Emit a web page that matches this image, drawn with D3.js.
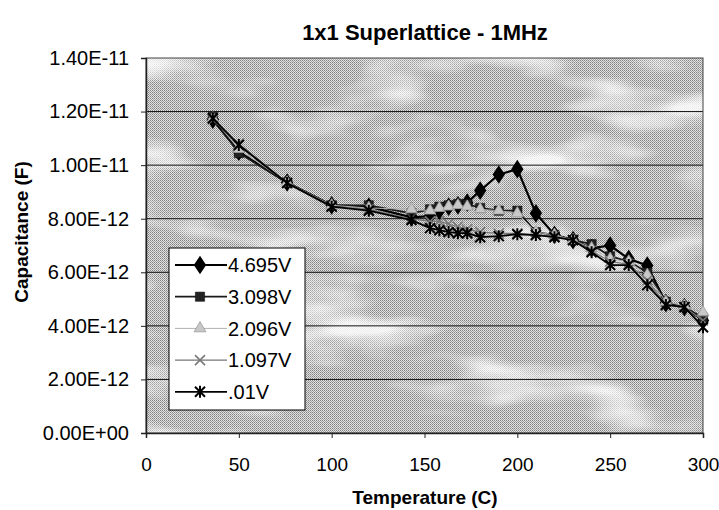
<!DOCTYPE html>
<html lang="en">
<head>
<meta charset="UTF-8">
<title>1x1 Superlattice - 1MHz</title>
<style>
  body { margin: 0; background: #fff; }
  text { font-family: "Liberation Sans", Arial, sans-serif; }
</style>
</head>
<body>
<div id="chart"></div>
<script src="https://d3js.org/d3.v7.min.js"></script>
<script>
// temperature points (C)
const temps = [36, 50, 76, 100, 120, 143, 153, 158, 163, 168, 173, 180, 190, 200, 210, 220, 230, 240, 250, 260, 270, 280, 290, 300];
// capacitance in units of 1e-12 F
const v4695 = [11.7, 10.5, 9.35, 8.5, 8.45, 8.05, 8.1, 8.3, 8.45, 8.5, 8.6, 9.05, 9.65, 9.85, 8.2, 7.4, 7.2, 6.9, 7.0, 6.5, 6.25, 4.85, 4.7, 4.2];
const v3098 = [11.8, 10.45, 9.35, 8.5, 8.5, 8.2, 8.35, 8.45, 8.5, 8.55, 8.55, 8.4, 8.3, 8.3, 7.5, 7.4, 7.2, 7.05, 6.6, 6.4, 6.0, 4.9, 4.7, 4.3];
const v2096 = [11.75, 10.6, 9.35, 8.5, 8.4, 8.35, 8.3, 8.4, 8.45, 8.5, 8.45, 8.35, 8.3, 8.2, 7.5, 7.4, 7.2, 6.9, 6.5, 6.4, 5.9, 4.9, 4.75, 4.5];
const v1097 = [11.7, 10.8, 9.35, 8.45, 8.35, 8.0, 7.9, 7.9, 7.8, 7.7, 7.6, 7.5, 7.45, 7.45, 7.4, 7.35, 7.2, 6.8, 6.4, 6.3, 5.7, 4.8, 4.7, 4.2];
const v001 = [11.75, 10.75, 9.33, 8.45, 8.3, 7.95, 7.65, 7.57, 7.5, 7.46, 7.46, 7.31, 7.35, 7.42, 7.39, 7.31, 7.2, 6.75, 6.27, 6.27, 5.52, 4.78, 4.7, 3.95];
const seriesNames = ["4.695V", "3.098V", "2.096V", "1.097V", ".01V"];
const xTicks = [0, 50, 100, 150, 200, 250, 300];
const yTicks = [0, 2e-12, 4e-12, 6e-12, 8e-12, 1e-11, 1.2e-11, 1.4e-11];

const width = 719, height = 510;
const pLeft = 146, pRight = 703, pTop = 58, pBottom = 433;

const svg = d3.select("#chart").append("svg")
  .attr("width", width).attr("height", height);

const x = d3.scaleLinear().domain([0, 300]).range([pLeft, pRight]);
const y = d3.scaleLinear().domain([0, 1.4e-11]).range([pBottom, pTop]);

// plot background: dithered gray with white cloudy patches
const defs = svg.append("defs");
const pat = defs.append("pattern").attr("id", "dith")
  .attr("width", 2).attr("height", 2).attr("patternUnits", "userSpaceOnUse");
pat.append("rect").attr("width", 2).attr("height", 2).attr("fill", "#e2e2e2");
pat.append("rect").attr("width", 1).attr("height", 1).attr("fill", "#808080");
pat.append("rect").attr("x", 1).attr("y", 1).attr("width", 1).attr("height", 1).attr("fill", "#a0a0a0");

const flt = defs.append("filter").attr("id", "clouds")
  .attr("x", 0).attr("y", 0).attr("width", 1).attr("height", 1);
flt.append("feTurbulence").attr("type", "fractalNoise")
  .attr("baseFrequency", "0.007 0.022").attr("numOctaves", 3).attr("seed", 7);
flt.append("feColorMatrix").attr("type", "matrix")
  .attr("values", "0 0 0 0 1  0 0 0 0 1  0 0 0 0 1  4 0 0 0 -2.0");

svg.append("rect").attr("x", pLeft).attr("y", pTop)
  .attr("width", pRight - pLeft).attr("height", pBottom - pTop)
  .attr("fill", "url(#dith)");
svg.append("rect").attr("x", pLeft).attr("y", pTop)
  .attr("width", pRight - pLeft).attr("height", pBottom - pTop)
  .attr("fill", "#fff").attr("filter", "url(#clouds)").attr("opacity", 0.85);

// gridlines
svg.append("g").selectAll("line")
  .data(yTicks.filter(d => d > 0 && d < 1.4e-11))
  .join("line")
  .attr("x1", pLeft).attr("x2", pRight)
  .attr("y1", d => y(d)).attr("y2", d => y(d))
  .attr("stroke", "#111").attr("stroke-width", 1);

// plot border
svg.append("rect").attr("x", pLeft).attr("y", pTop)
  .attr("width", pRight - pLeft).attr("height", pBottom - pTop)
  .attr("fill", "none").attr("stroke", "#444").attr("stroke-width", 1);

function sciFmt(v) {
  if (v === 0) return "0.00E+00";
  const e = Math.floor(Math.log10(Math.abs(v)) + 1e-9);
  const m = v / Math.pow(10, e);
  const sign = e < 0 ? "-" : "+";
  return m.toFixed(2) + "E" + sign + String(Math.abs(e)).padStart(2, "0");
}

const yAxis = svg.append("g").attr("transform", `translate(${pLeft},0)`)
  .call(d3.axisLeft(y).tickValues(yTicks).tickFormat(sciFmt).tickSize(5).tickPadding(12));
const xAxis = svg.append("g").attr("transform", `translate(0,${pBottom})`)
  .call(d3.axisBottom(x).tickValues(xTicks).tickSize(5).tickPadding(20));
[yAxis, xAxis].forEach(a => {
  a.select(".domain").attr("stroke", "#222").attr("stroke-width", 1.5);
  a.selectAll(".tick line").attr("stroke", "#222");
  a.selectAll("text").attr("fill", "#000")
    .style("font-family", '"Liberation Sans", Arial, sans-serif');
});
yAxis.selectAll("text").style("font-size", "20px");
xAxis.selectAll("text").style("font-size", "19px");

// series
const seriesVals = [v4695, v3098, v2096, v1097, v001];
const styles = [
  { color: "#000", width: 2.2, marker: "diamond", size: 100, fill: "#000", mstroke: "#000" },
  { color: "#1a1a1a", width: 1.8, marker: "square", size: 85, fill: "#222", mstroke: "#000" },
  { color: "#b0b0b0", width: 1, marker: "triangle", size: 60, fill: "#c8c8c8", mstroke: "#9a9a9a" },
  { color: "#777", width: 1.2, marker: "x", size: 10, fill: "none", mstroke: "#777" },
  { color: "#000", width: 1.8, marker: "star", size: 10, fill: "none", mstroke: "#000" }
];

const series = seriesNames.map((name, i) => ({
  name, style: styles[i],
  points: temps.map((t, j) => ({ t, c: seriesVals[i][j] * 1e-12 }))
}));

const line = d3.line().x(d => x(d.t)).y(d => y(d.c));

function drawMarker(g, st, cx, cy) {
  if (st.marker === "diamond") {
    g.append("path").attr("d", d3.symbol(d3.symbolDiamond, st.size)())
      .attr("transform", `translate(${cx},${cy}) scale(1.15,1)`).attr("fill", st.fill);
  } else if (st.marker === "square") {
    g.append("path").attr("d", d3.symbol(d3.symbolSquare, st.size)())
      .attr("transform", `translate(${cx},${cy})`).attr("fill", st.fill)
      .attr("stroke", st.mstroke).attr("stroke-width", 0.5);
  } else if (st.marker === "triangle") {
    g.append("path").attr("d", d3.symbol(d3.symbolTriangle, st.size)())
      .attr("transform", `translate(${cx},${cy})`).attr("fill", st.fill)
      .attr("stroke", st.mstroke).attr("stroke-width", 0.8);
  } else if (st.marker === "x") {
    const s = st.size / 2;
    g.append("path").attr("d", `M${cx - s},${cy - s}L${cx + s},${cy + s}M${cx - s},${cy + s}L${cx + s},${cy - s}`)
      .attr("stroke", st.mstroke).attr("stroke-width", 1.5);
  } else if (st.marker === "star") {
    const s = st.size / 2;
    g.append("path").attr("d",
      `M${cx - s},${cy - s}L${cx + s},${cy + s}M${cx - s},${cy + s}L${cx + s},${cy - s}M${cx},${cy - s - 1}L${cx},${cy + s + 1}`)
      .attr("stroke", st.mstroke).attr("stroke-width", 2);
  }
}

const plot = svg.append("g");
series.forEach(s => {
  plot.append("path").datum(s.points)
    .attr("d", line).attr("fill", "none")
    .attr("stroke", s.style.color).attr("stroke-width", s.style.width)
    .attr("stroke-linejoin", "round");
  const mg = plot.append("g");
  s.points.forEach(p => drawMarker(mg, s.style, x(p.t), y(p.c)));
});

// legend
const lg = svg.append("g");
const lgX = 169, lgY = 248, lgW = 136, rowH = 31.7;
lg.append("rect").attr("x", lgX).attr("y", lgY).attr("width", lgW).attr("height", 162)
  .attr("fill", "#fff").attr("stroke", "#000").attr("stroke-width", 1);
series.forEach((s, i) => {
  const cy = lgY + 17 + i * rowH;
  lg.append("line").attr("x1", lgX + 6).attr("x2", lgX + 58)
    .attr("y1", cy).attr("y2", cy)
    .attr("stroke", s.style.color).attr("stroke-width", s.style.width);
  drawMarker(lg, s.style, lgX + 31, cy);
  lg.append("text").attr("x", lgX + 59).attr("y", cy).attr("dy", "0.36em")
    .style("font-size", "20px").text(s.name);
});

// titles
svg.append("text").attr("x", 425).attr("y", 40).attr("text-anchor", "middle")
  .style("font-size", "22px").style("font-weight", "bold")
  .text("1x1 Superlattice - 1MHz");
svg.append("text").attr("x", 425).attr("y", 504).attr("text-anchor", "middle")
  .style("font-size", "19px").style("font-weight", "bold")
  .text("Temperature (C)");
svg.append("text").attr("transform", `translate(28,232) rotate(-90)`)
  .attr("text-anchor", "middle")
  .style("font-size", "19px").style("font-weight", "bold")
  .text("Capacitance (F)");
</script>
</body>
</html>
